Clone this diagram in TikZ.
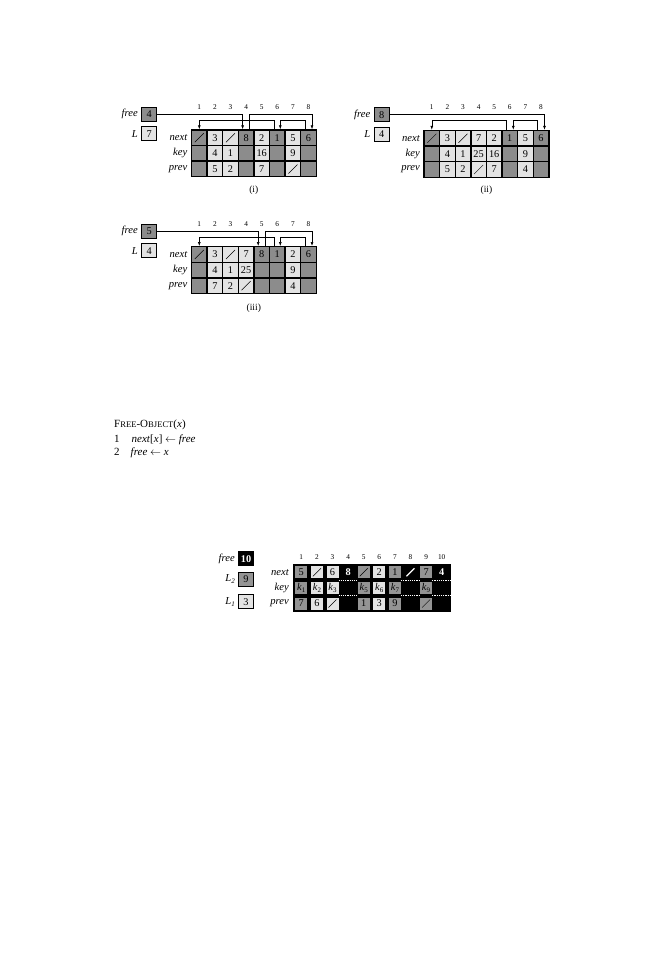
\documentclass[tikz,border=0pt]{standalone}
\usepackage{fontspec}
\setmainfont{Liberation Serif}
\usetikzlibrary{arrows.meta,calc}
\definecolor{dk}{gray}{0.55}
\definecolor{md}{gray}{0.58}
\definecolor{lt}{gray}{0.89}
\newcommand\ksub[1]{\textit{k}\raisebox{-0.45ex}{\fontsize{7}{7}\selectfont #1}}
\newcommand\Lsub[1]{\textit{L}\raisebox{-0.45ex}{\fontsize{7}{7}\selectfont #1}}
\newcommand\smc[1]{{\fontsize{8.6}{8.6}\selectfont #1}}
\tikzset{
  cellA/.style={draw=black, line width=1.4pt, minimum width=15.6pt, minimum height=15.6pt, inner sep=0pt, font=\fontsize{10.3}{10.3}\selectfont},
  cellD/.style={minimum width=12pt, minimum height=12pt, inner sep=0pt, font=\fontsize{10.3}{10.3}\selectfont},
  idx/.style={font=\fontsize{7.3}{7.3}\selectfont, inner sep=0pt},
  rowlab/.style={font=\fontsize{10.6}{10.6}\selectfont\itshape, anchor=east, inner sep=0pt},
  varbox/.style={draw=black, line width=1pt, minimum width=15pt, minimum height=14pt, inner sep=0pt, font=\fontsize{10.3}{10.3}\selectfont},
  link/.style={line width=0.6pt, -{Latex[length=4pt,width=3pt]}},
  slash/.style={line width=0.5pt},
  capt/.style={font=\fontsize{9.5}{9.5}\selectfont, inner sep=0pt},
  code/.style={anchor=base west, inner sep=0pt, font=\fontsize{11}{11}\selectfont},
  wdot/.style={white, line width=0.9pt, dash pattern=on 1.3pt off 0.9pt},
}
\begin{document}
\begin{tikzpicture}[x=1pt,y=-1pt]
\fill[white] (0,0) rectangle (667,960);
\useasboundingbox (0,0) rectangle (667,960);

% ---------------- (i) ----------------
\foreach \i/\f/\n/\k/\p in {1/dk/{}/{}/{},2/lt/3/4/5,3/lt/{}/1/2,4/dk/8/{}/{},5/lt/2/16/7,6/dk/1/{}/{},7/lt/5/9/{},8/dk/6/{}/{}}{
  \node[cellA,fill=\f] (A-n-\i) at ({191.5+(\i-0.5)*15.6},137.8) {\n};
  \node[cellA,fill=\f] (A-k-\i) at ({191.5+(\i-0.5)*15.6},153.4) {\k};
  \node[cellA,fill=\f] (A-p-\i) at ({191.5+(\i-0.5)*15.6},169.0) {\p};
  \node[idx] (A-i-\i) at ({191.5+(\i-0.5)*15.6},107) {\i};
}
\foreach \c in {A-n-1,A-n-3,A-p-7} \draw[slash] (\c.center) +(-4.5,4.5) -- +(4.5,-4.5);
\node[rowlab] (A-ln) at (187.5,137.8) {next};
\node[rowlab] (A-lk) at (187.5,153.4) {key};
\node[rowlab] (A-lp) at (187.5,169.0) {prev};
\node[varbox,fill=dk] (A-free) at (149.2,114.3) {4};
\node[varbox,fill=lt] (A-L) at (149.2,134) {7};
\node[rowlab] (A-freel) at (138,114.3) {free};
\node[rowlab] (A-Ll) at (138,134) {L};
\draw[link] (A-free.east) -| ([xshift=-3.5pt]A-n-4.north);
\draw[link] ([xshift=3.5pt]A-n-4.north) -- ++(0,-15) -| ([xshift=3.5pt]A-n-8.north);
\draw[link] ([xshift=-3.5pt]A-n-8.north) -- ++(0,-9) -| ([xshift=3pt]A-n-6.north);
\draw[link] ([xshift=-3.5pt]A-n-6.north) -- ++(0,-9) -| (A-n-1.north);
\node[capt] (A-cap) at (253.8,190) {(i)};

% ---------------- (ii) ----------------
\foreach \i/\f/\n/\k/\p in {1/dk/{}/{}/{},2/lt/3/4/5,3/lt/{}/1/2,4/lt/7/25/{},5/lt/2/16/7,6/dk/1/{}/{},7/lt/5/9/4,8/dk/6/{}/{}}{
  \node[cellA,fill=\f] (B-n-\i) at ({424+(\i-0.5)*15.6},138.3) {\n};
  \node[cellA,fill=\f] (B-k-\i) at ({424+(\i-0.5)*15.6},153.9) {\k};
  \node[cellA,fill=\f] (B-p-\i) at ({424+(\i-0.5)*15.6},169.5) {\p};
  \node[idx] (B-i-\i) at ({424+(\i-0.5)*15.6},107.5) {\i};
}
\foreach \c in {B-n-1,B-n-3,B-p-4} \draw[slash] (\c.center) +(-4.5,4.5) -- +(4.5,-4.5);
\node[rowlab] (B-ln) at (420,138.3) {next};
\node[rowlab] (B-lk) at (420,153.9) {key};
\node[rowlab] (B-lp) at (420,169.5) {prev};
\node[varbox,fill=dk] (B-free) at (381.7,114.8) {8};
\node[varbox,fill=lt] (B-L) at (381.7,134.5) {4};
\node[rowlab] (B-freel) at (370.5,114.8) {free};
\node[rowlab] (B-Ll) at (370.5,134.5) {L};
\draw[link] (B-free.east) -| ([xshift=3.5pt]B-n-8.north);
\draw[link] ([xshift=-3.5pt]B-n-8.north) -- ++(0,-9) -| ([xshift=3.5pt]B-n-6.north);
\draw[link] ([xshift=-3.5pt]B-n-6.north) -- ++(0,-9) -| (B-n-1.north);
\node[capt] (B-cap) at (486.4,190) {(ii)};

% ---------------- (iii) ----------------
\foreach \i/\f/\n/\k/\p in {1/dk/{}/{}/{},2/lt/3/4/7,3/lt/{}/1/2,4/lt/7/25/{},5/dk/8/{}/{},6/dk/1/{}/{},7/lt/2/9/4,8/dk/6/{}/{}}{
  \node[cellA,fill=\f] (C-n-\i) at ({191.5+(\i-0.5)*15.6},254.5) {\n};
  \node[cellA,fill=\f] (C-k-\i) at ({191.5+(\i-0.5)*15.6},270.1) {\k};
  \node[cellA,fill=\f] (C-p-\i) at ({191.5+(\i-0.5)*15.6},285.7) {\p};
  \node[idx] (C-i-\i) at ({191.5+(\i-0.5)*15.6},223.7) {\i};
}
\foreach \c in {C-n-1,C-n-3,C-p-4} \draw[slash] (\c.center) +(-4.5,4.5) -- +(4.5,-4.5);
\node[rowlab] (C-ln) at (187.5,254.5) {next};
\node[rowlab] (C-lk) at (187.5,270.1) {key};
\node[rowlab] (C-lp) at (187.5,285.7) {prev};
\node[varbox,fill=dk] (C-free) at (149.2,231) {5};
\node[varbox,fill=lt] (C-L) at (149.2,250.7) {4};
\node[rowlab] (C-freel) at (138,231) {free};
\node[rowlab] (C-Ll) at (138,250.7) {L};
\draw[link] (C-free.east) -| ([xshift=-3.5pt]C-n-5.north);
\draw[link] ([xshift=3.5pt]C-n-5.north) -- ++(0,-15) -| ([xshift=3.5pt]C-n-8.north);
\draw[link] ([xshift=-3.5pt]C-n-8.north) -- ++(0,-9) -| ([xshift=3pt]C-n-6.north);
\draw[link] ([xshift=-3.5pt]C-n-6.north) -- ++(0,-9) -| (C-n-1.north);
\node[capt] (C-cap) at (253.8,308) {(iii)};

% ---------------- pseudocode ----------------
\node[code] (pc-t) at (114,427) {F\smc{REE}-O\smc{BJECT}(\textit{x})};
\node[code] (pc-n1) at (114,442) {1};
\node[code] (pc-l1) at (131.5,442) {\textit{next}[\textit{x}] $\leftarrow$ \textit{free}};
\node[code] (pc-n2) at (114,455.4) {2};
\node[code] (pc-l2) at (130.5,455.4) {\textit{free} $\leftarrow$ \textit{x}};

% ---------------- bottom figure ----------------
\node[fill=black, minimum width=157.7pt, minimum height=48.2pt, inner sep=0pt] (D-bg) at (371.65,587.9) {};
\foreach \i in {1,...,10} \node[idx] (D-i-\i) at ({301.3+(\i-1)*15.6},557.5) {\i};
\foreach \i/\f/\n/\k/\p in {1/md/5/\ksub{1}/7,2/lt/{}/\ksub{2}/6,3/lt/6/\ksub{3}/{},5/md/{}/\ksub{5}/1,6/lt/2/\ksub{6}/3,7/md/1/\ksub{7}/9,9/md/7/\ksub{9}/{}}{
  \node[cellD,fill=\f] (D-n-\i) at ({301.3+(\i-1)*15.6},572.3) {\n};
  \node[cellD,fill=\f] (D-k-\i) at ({301.3+(\i-1)*15.6},587.9) {\k};
  \node[cellD,fill=\f] (D-p-\i) at ({301.3+(\i-1)*15.6},603.5) {\p};
}
\foreach \i/\n in {4/8,8/{},10/4}{
  \node[cellD,text=white,font=\fontsize{10.3}{10.3}\selectfont\bfseries] (D-n-\i) at ({301.3+(\i-1)*15.6},572.3) {\n};
  \draw[wdot] ($(D-n-\i.center)+(-9.6,7.8)$) -- ($(D-n-\i.center)+(9.6,7.8)$);
  \draw[wdot] ($(D-n-\i.center)+(-9.6,23.4)$) -- ($(D-n-\i.center)+(9.6,23.4)$);
}
\foreach \c in {D-n-2,D-p-3,D-n-5,D-p-9} \draw[slash] (\c.center) +(-4,4) -- +(4,-4);
\draw[white, line width=1.2pt] (D-n-8.center) +(-4,4) -- +(4,-4);
\node[rowlab] (D-ln) at (289,572.3) {next};
\node[rowlab] (D-lk) at (289,587.9) {key};
\node[rowlab] (D-lp) at (289,603.5) {prev};
\node[varbox,fill=black,text=white,font=\fontsize{10.3}{10.3}\selectfont\bfseries] (D-free) at (246,558.7) {10};
\node[varbox,fill=md] (D-L2) at (246,579) {9};
\node[varbox,fill=lt] (D-L1) at (246,601.7) {3};
\node[rowlab] (D-freel) at (235,558.7) {free};
\node[rowlab] (D-L2l) at (235,579) {\Lsub{2}};
\node[rowlab] (D-L1l) at (235,601.7) {\Lsub{1}};
\end{tikzpicture}
\end{document}
